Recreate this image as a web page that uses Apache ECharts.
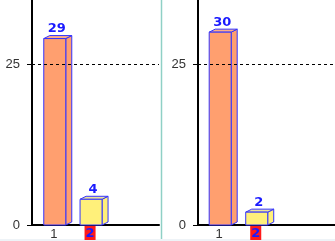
<!DOCTYPE html>
<html><head><meta charset="utf-8">
<script src="https://cdn.jsdelivr.net/npm/echarts@6/dist/echarts.min.js"></script>
<style>html,body{margin:0;padding:0;background:#fff}#c{width:335px;height:241px}</style>
</head><body><div id="c"></div>
<script>
const categories = ['1', '2'];
const categoryPositions = [1, 2];
const leftValues = [29, 4];
const rightValues = [30, 2];
const yTickValues = [0, 25];
const referenceLine = 25;
const barColors = ['#ff9f6f', '#fff07a'];
const topColors = ['#ffae85', '#ece39a'];

const chart = echarts.init(document.getElementById('c'));
const DX = 6, DY = 3, FL = 10, FW = 22;

function renderBar(params, api) {
  const xv = api.value(0), yv = api.value(1);
  const idx = params.dataIndex;
  const p0 = api.coord([xv, 0]);
  const p1 = api.coord([xv, yv]);
  const x = p0[0] - FL, top = p1[1], bot = p0[1];
  const st = {stroke: '#3333ff', lineWidth: 1};
  return {
    type: 'group',
    children: [
      {type: 'polygon', shape: {points: [[x + FW, top], [x + FW + DX, top - DY], [x + FW + DX, bot - DY], [x + FW, bot]]},
        style: Object.assign({fill: barColors[idx]}, st)},
      {type: 'polygon', shape: {points: [[x, top], [x + DX, top - DY], [x + FW + DX, top - DY], [x + FW, top]]},
        style: Object.assign({fill: topColors[idx]}, st)},
      {type: 'rect', shape: {x: x, y: top, width: FW, height: bot - top},
        style: Object.assign({fill: barColors[idx]}, st)},
      {type: 'text', x: x + FW / 2 + 2, y: top - DY,
        style: {text: String(yv), fill: '#1a1aff', font: 'bold 13px "DejaVu Sans"', align: 'center', verticalAlign: 'bottom'}}
    ]
  };
}

function xAxisFor(gi, min, max) {
  return {
    type: 'value', gridIndex: gi, min: min, max: max,
    axisLine: {show: true, onZero: false, lineStyle: {color: '#000', width: 2}},
    axisTick: {show: false},
    splitLine: {show: false},
    axisLabel: {
      customValues: categoryPositions, margin: 2,
      formatter: v => {
        const i = categoryPositions.indexOf(v);
        return i === 1 ? '{r|' + categories[i] + '}' : '{n|' + categories[i] + '}';
      },
      rich: {
        n: {fontFamily: 'Liberation Sans', fontSize: 13, color: '#333', lineHeight: 13, padding: [1, 0, 0, 0]},
        r: {fontFamily: 'DejaVu Sans', fontWeight: 'bold', fontSize: 13, color: '#1a1aff', backgroundColor: '#ff1a1a', padding: [1, 1, 0, 1], lineHeight: 12}
      }
    }
  };
}
function yAxisFor(gi) {
  return {
    type: 'value', gridIndex: gi, min: 0, max: 35,
    axisLine: {show: true, lineStyle: {color: '#000', width: 2}},
    axisTick: {show: true, customValues: yTickValues, length: 5, lineStyle: {color: '#000'}},
    splitLine: {show: false},
    axisLabel: {customValues: yTickValues, margin: 12, fontFamily: 'Liberation Sans', fontSize: 13, color: '#333'}
  };
}
function seriesFor(gi, values) {
  return {
    type: 'custom', xAxisIndex: gi, yAxisIndex: gi,
    renderItem: renderBar,
    data: values.map((v, i) => [categoryPositions[i], v]),
    markLine: {
      silent: true, symbol: 'none', label: {show: false},
      lineStyle: {color: '#000', type: [3, 3], width: 1},
      data: [{yAxis: referenceLine}]
    },
    z: 3
  };
}

chart.setOption({
  animation: false,
  backgroundColor: '#fff',
  grid: [
    {left: 32, right: 176, top: 0, bottom: 16},
    {left: 198, right: 0, top: 0, bottom: 16}
  ],
  xAxis: [xAxisFor(0, 0.4, 3.9), xAxisFor(1, 0.42, 4.17)],
  yAxis: [yAxisFor(0), yAxisFor(1)],
  series: [seriesFor(0, leftValues), seriesFor(1, rightValues)],
  graphic: [
    {type: 'line', shape: {x1: 161.5, y1: 0, x2: 161.5, y2: 241}, style: {stroke: '#8fd0c6', lineWidth: 1.5}},
    {type: 'rect', shape: {x: 0, y: 239, width: 335, height: 2}, style: {fill: '#eef3f7'}}
  ]
});
</script></body></html>
